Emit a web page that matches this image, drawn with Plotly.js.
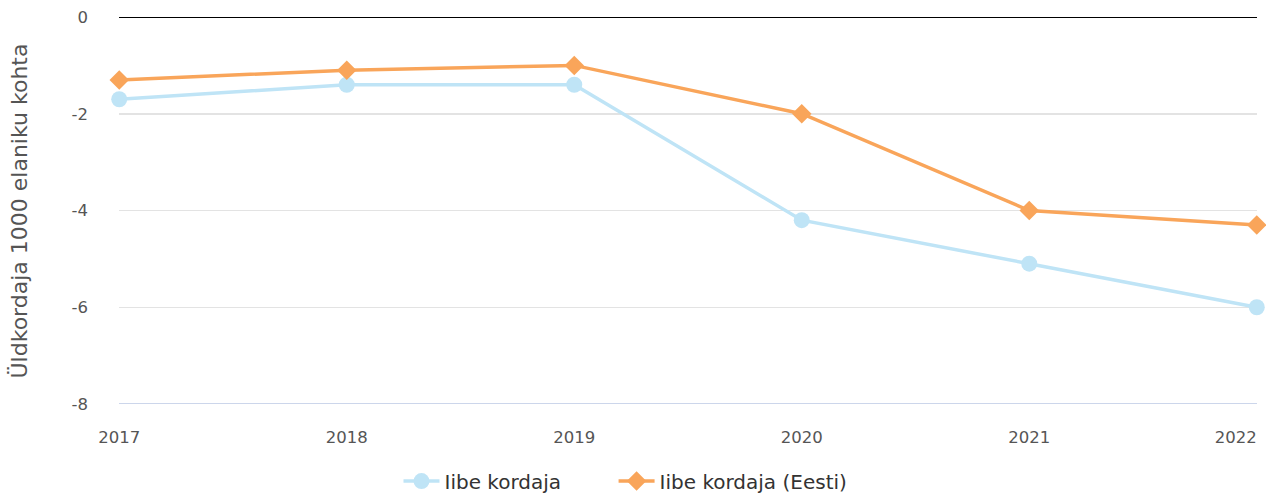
<!DOCTYPE html>
<html><head><meta charset="utf-8">
<script src="https://cdn.plot.ly/plotly-3.0.1.min.js"></script>
<style>body{margin:0;background:#fff}#c{width:1266px;height:496px}</style>
</head><body><div id="c"></div>
<script>
const years = [2017, 2018, 2019, 2020, 2021, 2022];
const yearLabels = ['2017', '2018', '2019', '2020', '2021', '2022'];
const iibe = [-1.7, -1.4, -1.4, -4.2, -5.1, -6.0];
const iibeEesti = [-1.3, -1.1, -1.0, -2.0, -4.0, -4.3];
const yTicks = [0, -2, -4, -6, -8];
const yTitle = 'Üldkordaja 1000 elaniku kohta';

const n = years.length;
const traces = [
  {x: years, y: iibe, name: 'Iibe kordaja', mode: 'lines+markers', type: 'scatter', legend: 'legend',
   line: {color: '#bfe4f6', width: 3.5}, marker: {symbol: 'circle', size: 16, color: '#bfe4f6'}, cliponaxis: false},
  {x: years, y: iibeEesti, name: 'Iibe kordaja (Eesti)', mode: 'lines+markers', type: 'scatter', legend: 'legend2',
   line: {color: '#f9a55a', width: 3.5}, marker: {symbol: 'diamond', size: 15, color: '#f9a55a'}, cliponaxis: false},
  // invisible helper so the second x axis (last tick label) is drawn
  {x: years.slice(n - 1), y: iibe.slice(n - 1), xaxis: 'x2', yaxis: 'y', mode: 'markers', type: 'scatter',
   marker: {opacity: 0, size: 1}, showlegend: false, hoverinfo: 'skip'}
];
const xr = [years[0] - 0.001, years[n - 1] + 0.001];
const tickFont = {size: 16.5, color: '#555'};
const legFont = {family: 'DejaVu Sans, sans-serif', size: 20, color: '#333'};
const layout = {
  width: 1266, height: 496,
  margin: {l: 119, r: 9, t: 17, b: 92, autoexpand: false},
  paper_bgcolor: '#fff', plot_bgcolor: '#fff',
  font: {family: 'DejaVu Sans, sans-serif', color: '#555', size: 16},
  xaxis: {range: xr, tickvals: years.slice(0, n - 1), ticktext: yearLabels.slice(0, n - 1), showgrid: false, zeroline: false,
          showline: false, ticks: '', ticklabelstandoff: 21, tickfont: tickFont},
  xaxis2: {range: xr, overlaying: 'x', anchor: 'y', side: 'bottom', tickvals: years.slice(n - 1), ticktext: yearLabels.slice(n - 1),
          ticklabelposition: 'outside left', showgrid: false, zeroline: false, showline: false, ticks: '',
          ticklabelstandoff: 21, tickfont: tickFont},
  yaxis: {range: [-8, 0], tickvals: yTicks, ticktext: yTicks.map(String), showgrid: true, gridcolor: '#e3e3e3', gridwidth: 1.5,
          zeroline: false, showline: false, ticks: '', ticklabelstandoff: 30, tickfont: tickFont},
  annotations: [
    {text: yTitle, xref: 'paper', yref: 'paper', x: -0.087, y: 0.5, xanchor: 'center', yanchor: 'middle',
     textangle: -90, showarrow: false, font: {size: 22, color: '#555'}}
  ],
  shapes: [
    {type: 'line', xref: 'paper', yref: 'y', x0: 0, x1: 1, y0: 0, y1: 0, line: {color: '#000', width: 2}, layer: 'below'},
    {type: 'line', xref: 'paper', yref: 'y', x0: 0, x1: 1, y0: -8, y1: -8, line: {color: '#ccd6eb', width: 2}, layer: 'below'}
  ],
  legend: {orientation: 'h', x: 0.2456, xanchor: 'left', yref: 'container', y: 0.03, yanchor: 'middle',
           font: legFont, itemwidth: 36},
  legend2: {orientation: 'h', x: 0.4346, xanchor: 'left', yref: 'container', y: 0.03, yanchor: 'middle',
           font: legFont, itemwidth: 36},
  showlegend: true
};
Plotly.newPlot('c', traces, layout, {displayModeBar: false, staticPlot: true});
</script></body></html>
